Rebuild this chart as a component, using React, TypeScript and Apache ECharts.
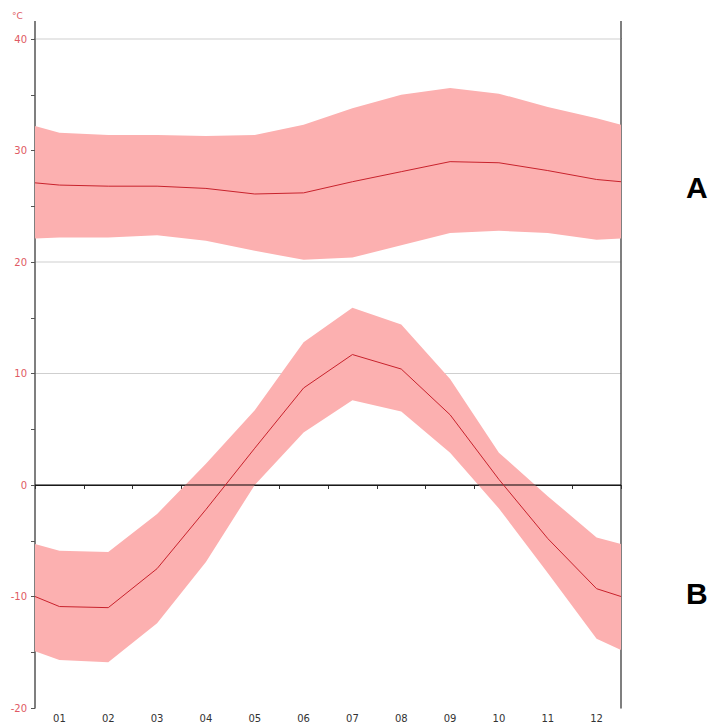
import React, { useEffect, useRef } from "react";
import * as echarts from "echarts";

const months = ["01", "02", "03", "04", "05", "06", "07", "08", "09", "10", "11", "12"];
// x positions: left edge, 12 month centres, right edge
const xPositions = [0.5, 1, 2, 3, 4, 5, 6, 7, 8, 9, 10, 11, 12, 12.5];

const aUpper = [32.2, 31.6, 31.4, 31.4, 31.3, 31.4, 32.3, 33.8, 35.0, 35.6, 35.1, 33.9, 32.9, 32.3];
const aMean = [27.1, 26.9, 26.8, 26.8, 26.6, 26.1, 26.2, 27.2, 28.1, 29.0, 28.9, 28.2, 27.4, 27.2];
const aLower = [22.1, 22.2, 22.2, 22.4, 21.9, 21.0, 20.2, 20.4, 21.5, 22.6, 22.8, 22.6, 22.0, 22.1];

const bUpper = [-5.3, -5.9, -6.0, -2.6, 1.9, 6.7, 12.8, 15.9, 14.4, 9.5, 2.9, -1.0, -4.7, -5.3];
const bMean = [-10.0, -10.9, -11.0, -7.5, -2.2, 3.3, 8.7, 11.7, 10.4, 6.3, 0.5, -4.8, -9.3, -10.0];
const bLower = [-14.9, -15.7, -15.9, -12.4, -6.9, 0.0, 4.7, 7.6, 6.6, 2.9, -2.1, -7.9, -13.8, -14.8];

const yTicks = { min: -20, max: 40, interval: 10 };
// grey grid lines (drawn under the bands) and the black zero line
const gridValues = [10, 20, 30, 40];
const zeroValue = 0;

const BAND = "#fcb0b0";
const LINE = "#c8222c";
const LABEL_RED = "#e05a64";
const AXIS = "#555";

function hLines(values: number[], color: string, z: number) {
  return {
    type: "custom",
    xAxisIndex: 1,
    yAxisIndex: 0,
    silent: true,
    z,
    renderItem: (params: any, api: any) => {
      const v = values[params.dataIndex];
      const p1 = api.coord([xPositions[0], v]);
      const p2 = api.coord([xPositions[xPositions.length - 1], v]);
      return {
        type: "line",
        shape: { x1: p1[0], y1: p1[1], x2: p2[0], y2: p2[1] },
        style: { stroke: color, lineWidth: 1 },
      };
    },
    data: values.map((v) => [xPositions[0], v]),
  };
}

function band(upper: number[], lower: number[]) {
  return {
    type: "custom",
    xAxisIndex: 1,
    yAxisIndex: 0,
    silent: true,
    z: 1,
    renderItem: (_params: any, api: any) => {
      const pts: number[][] = [];
      for (let i = 0; i < xPositions.length; i++) pts.push(api.coord([xPositions[i], upper[i]]));
      for (let i = xPositions.length - 1; i >= 0; i--) pts.push(api.coord([xPositions[i], lower[i]]));
      return { type: "polygon", shape: { points: pts }, style: { fill: BAND } };
    },
    data: [[xPositions[0], upper[0]]],
  };
}

function meanLine(values: number[]) {
  return {
    type: "line",
    xAxisIndex: 1,
    yAxisIndex: 0,
    data: xPositions.map((x, i) => [x, values[i]]),
    symbol: "none",
    silent: true,
    z: 3,
    lineStyle: { color: LINE, width: 1 },
  };
}

export default function App() {
  const ref = useRef<HTMLDivElement>(null);
  useEffect(() => {
    if (!ref.current) return;
    const chart = echarts.init(ref.current, undefined, { renderer: "svg" });
    const gridLeft = 35;
    const gridRight = 89;
    const gridTop = 39;
    chart.setOption({
      animation: false,
      backgroundColor: "#fff",
      grid: { left: gridLeft, right: gridRight, top: gridTop, bottom: 13 },
      xAxis: [
        {
          type: "category",
          data: months,
          boundaryGap: true,
          axisLine: { lineStyle: { color: "#333", width: 1 } },
          axisTick: { show: true, alignWithLabel: false, length: 4, lineStyle: { color: "#333" } },
          axisLabel: { color: "#333", fontSize: 10, margin: 5, fontFamily: "DejaVu Sans" },
          splitLine: { show: false },
        },
        {
          type: "value",
          min: 0.5,
          max: 12.5,
          show: false,
        },
      ],
      yAxis: [
        {
          type: "value",
          min: yTicks.min,
          max: yTicks.max,
          interval: yTicks.interval,
          axisLine: { show: true, lineStyle: { color: AXIS, width: 1.5 } },
          axisTick: { show: true, length: 4, lineStyle: { color: AXIS } },
          minorTick: { show: true, splitNumber: 2, length: 4, lineStyle: { color: AXIS } },
          axisLabel: { color: LABEL_RED, fontSize: 10, margin: 8, fontFamily: "DejaVu Sans" },
          splitLine: { show: false },
        },
        {
          type: "value",
          position: "right",
          min: yTicks.min,
          max: yTicks.max,
          interval: yTicks.interval,
          axisLine: { show: true, lineStyle: { color: AXIS, width: 1.5 } },
          axisTick: { show: false },
          axisLabel: { show: false },
          splitLine: { show: false },
        },
      ],
      graphic: [
        {
          type: "line",
          shape: { x1: gridLeft, y1: 21, x2: gridLeft, y2: gridTop },
          style: { stroke: AXIS, lineWidth: 1.5 },
        },
        {
          type: "line",
          shape: { x1: 710 - gridRight, y1: 21, x2: 710 - gridRight, y2: gridTop },
          style: { stroke: AXIS, lineWidth: 1.5 },
        },
        {
          type: "text",
          left: 12,
          top: 11,
          style: { text: "°C", fill: LABEL_RED, fontSize: 9, fontFamily: "DejaVu Sans" },
        },
        {
          type: "text",
          left: 686,
          top: 172,
          style: { text: "A", fill: "#000", fontSize: 30, fontWeight: "bold", fontFamily: "Liberation Sans" },
        },
        {
          type: "text",
          left: 686,
          top: 578,
          style: { text: "B", fill: "#000", fontSize: 30, fontWeight: "bold", fontFamily: "Liberation Sans" },
        },
      ],
      series: [
        hLines(gridValues, "#cfcfcf", 0),
        band(aUpper, aLower),
        band(bUpper, bLower),
        hLines([zeroValue], "#000", 2),
        meanLine(aMean),
        meanLine(bMean),
      ],
    });
    return () => chart.dispose();
  }, []);
  return (
    <div
      ref={ref}
      style={{ position: "absolute", left: 0, top: 0, width: 710, height: 723 }}
    />
  );
}
